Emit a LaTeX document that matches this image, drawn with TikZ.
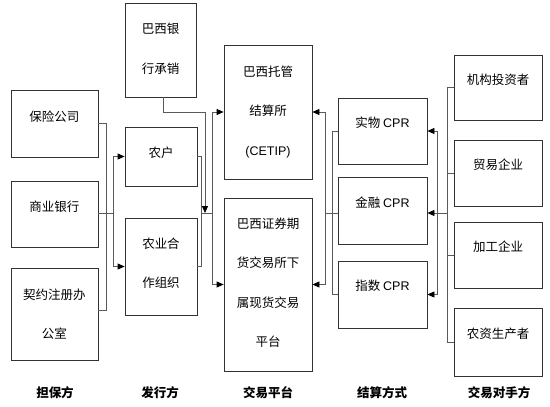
\documentclass[tikz,border=0pt]{standalone}
\usepackage{fontspec}
\setmainfont{Liberation Sans}
\newfontfamily\cjk{Noto Sans CJK SC}
\usetikzlibrary{arrows.meta}
\begin{document}
\begin{tikzpicture}[x=1pt,y=-1pt,
  box/.style={draw=black!80, line width=0.8pt, rectangle, inner sep=0pt},
  txt/.style={align=center, inner sep=0pt, font=\cjk\fontsize{12.5}{39.5}\selectfont},
  lab/.style={inner sep=0pt, font=\cjk\bfseries\fontsize{12.5}{15}\selectfont},
  conn/.style={draw=black!65, line width=0.8pt},
  arr/.style={conn, -{Triangle[length=7pt,width=6pt,fill=black,color=black]}}]
\useasboundingbox[fill=white] (0,0) rectangle (550,407);
% boxes: define by corners
\newcommand{\mkbox}[5]{\node[box, minimum width={#4-#2}, minimum height={#5-#3}] (#1) at ({(#2+#4)/2},{(#3+#5)/2}) {};}
\mkbox{g1}{11}{90}{98}{157}
\mkbox{g2}{11}{181}{98}{247}
\mkbox{g3}{11}{268}{98}{360}
\mkbox{i0}{125}{3}{196}{97}
\mkbox{i1}{125}{127}{197}{186}
\mkbox{i2}{125}{218}{197}{315}
\mkbox{p1}{224}{45}{312}{179}
\mkbox{p2}{224}{198}{312}{371}
\mkbox{s1}{338}{98}{427}{164}
\mkbox{s2}{338}{177}{427}{244}
\mkbox{s3}{338}{261}{427}{328}
\mkbox{c1}{454}{55}{542}{120}
\mkbox{c2}{454}{140}{542}{206}
\mkbox{c3}{454}{222}{542}{288}
\mkbox{c4}{454}{308}{542}{376}
% texts
\node[txt] (tg1) at (54.5,117) {保险公司};
\node[txt] (tg2) at (54.5,207) {商业银行};
\node[txt] (tg3) at (54.5,314) {契约注册办\\公室};
\node[txt] (ti0) at (160.5,49) {巴西银\\行承销};
\node[txt] (ti1) at (161,153) {农户};
\node[txt] (ti2) at (161,263) {农业合\\作组织};
\node[txt] (tp1) at (268,112) {巴西托管\\结算所\\\rmfamily(CETIP)};
\node[txt] (tp2) at (268,282.5) {巴西证券期\\货交易所下\\属现货交易\\平台};
\node[txt] (ts1) at (382.5,123) {实物\ \rmfamily CPR};
\node[txt] (ts2) at (382.5,203) {金融\ \rmfamily CPR};
\node[txt] (ts3) at (382.5,286) {指数\ \rmfamily CPR};
\node[txt] (tc1) at (498,80) {机构投资者};
\node[txt] (tc2) at (498,165) {贸易企业};
\node[txt] (tc3) at (498,247) {加工企业};
\node[txt] (tc4) at (498,334) {农资生产者};
% bottom labels
\node[lab] (l1) at (55,393) {担保方};
\node[lab] (l2) at (160,393) {发行方};
\node[lab] (l3) at (268,393) {交易平台};
\node[lab] (l4) at (382,393) {结算方式};
\node[lab] (l5) at (499,393) {交易对手方};
% junctions
\coordinate (jA) at (106,213);
\coordinate (jB) at (113,213);
\coordinate (jC) at (201,213);
\coordinate (jD) at (212,213);
\coordinate (kE) at (205,112);
\coordinate (jE) at (205,213);
\coordinate (jF) at (325,213);
\coordinate (jG) at (332,213);
\coordinate (jH) at (437,213);
\coordinate (jI) at (447,213);
% guarantor -> issuer
\draw[conn] (g1.east) -| (jA);
\draw[conn] ([yshift=4pt]g3.east) -| (jA);
\draw[conn] (g2.east |- jA) -- (jB);
\draw[arr] (jB) |- (i1.west);
\draw[arr] (jB) |- (i2.west);
% issuer -> platform
\draw[conn] (i1.east) -| (jC);
\draw[conn] (i2.east) -| (jC);
\draw[conn] (jC) -- (jD);
\draw[arr] (jD) |- (p1.west);
\draw[arr] (jD) |- (p2.west);
\draw[arr] ([xshift=2.5pt]i0.south) |- (kE) -- (jE);
% settlement -> platform
\draw[conn] (s1.west) -| (jG);
\draw[conn] (s3.west) -| (jG);
\draw[conn] (s2.west |- jF) -- (jF);
\draw[arr] (jF) |- (p1.east);
\draw[arr] (jF) |- (p2.east);
% counterparties -> settlement
\draw[conn] (c1.west) -| (jI);
\draw[conn] (c2.west) -| (jI);
\draw[conn] (c3.west) -| (jI);
\draw[conn] (c4.west) -| (jI);
\draw[conn] (jI) -- (jH);
\draw[arr] (jH) |- (s1.east);
\draw[arr] (jH) |- (s3.east);
\draw[arr] (jH) -- (s2.east |- jH);
\end{tikzpicture}
\end{document}
